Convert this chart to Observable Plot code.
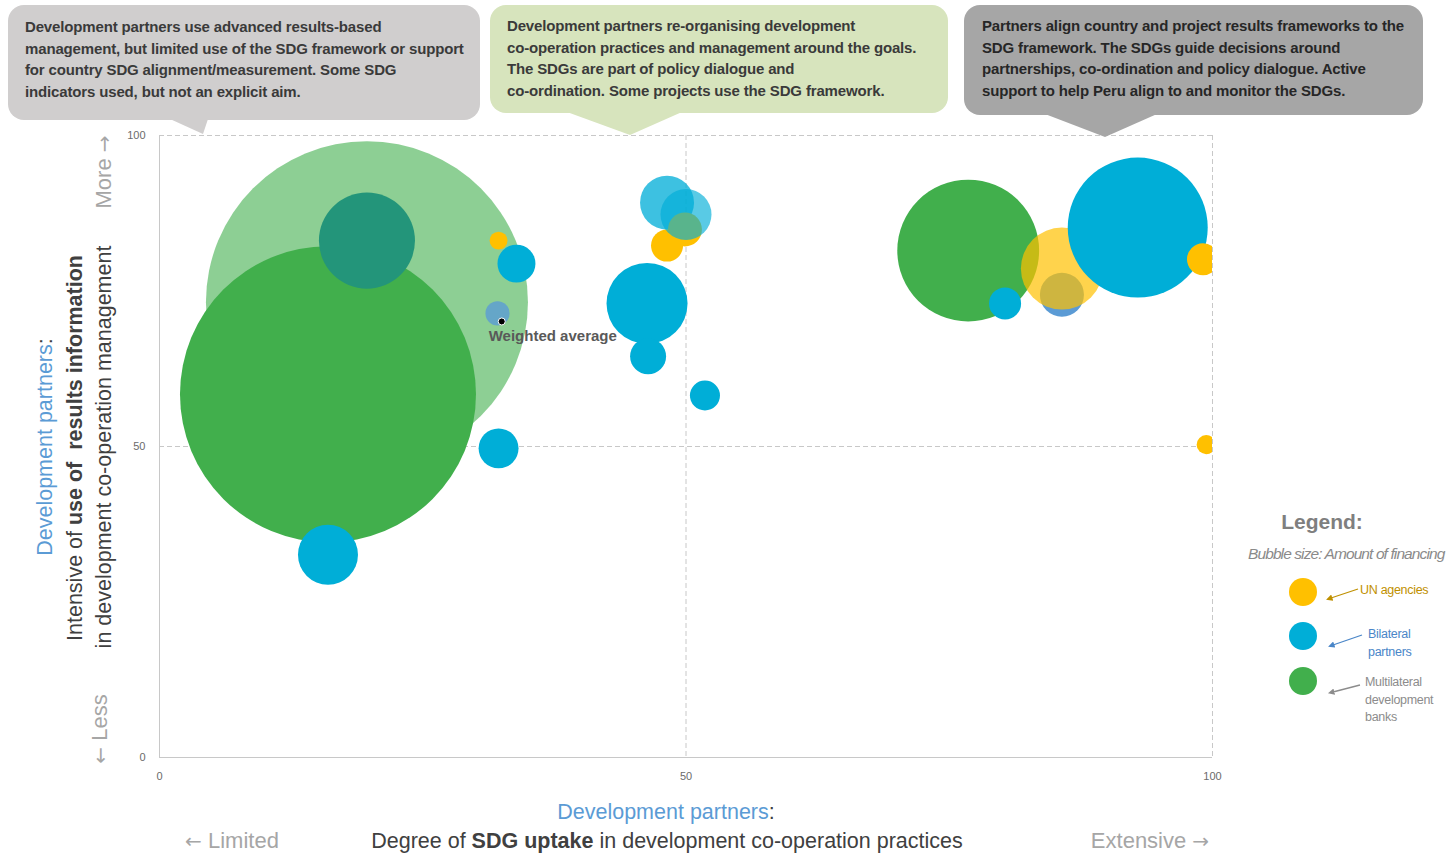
<!DOCTYPE html>
<html>
<head>
<meta charset="utf-8">
<script src="https://cdn.jsdelivr.net/npm/d3@7"></script>
<script src="https://cdn.jsdelivr.net/npm/@observablehq/plot@0.6"></script>
<style>
  body { margin: 0; background: #fff; }
  #page { position: relative; width: 1455px; height: 856px; overflow: hidden;
          font-family: "Liberation Sans Narrow", "Arial Narrow", "Liberation Sans", sans-serif; }
  #chart { position: absolute; left: 0; top: 0; }
  #overlay { position: absolute; left: 0; top: 0; pointer-events: none; }
  .abs { position: absolute; white-space: nowrap; }
  .callout { font-family: "Liberation Sans", Arial, sans-serif; font-weight: bold; font-size: 15px;
             letter-spacing: -0.15px; line-height: 21.5px; color: #3a3a3a; }
  .rot { transform: translate(-50%, -50%) rotate(-90deg); }
  .ctr { transform: translate(-50%, -50%); }
  .title { font-size: 21.5px; color: #404040; }
  .blue { color: #5b9bd5; }
  .hint { font-size: 22px; color: #a6a6a6; }
  .arr { font-family: "DejaVu Sans", sans-serif; font-size: 20px; }
</style>
</head>
<body>
<div id="page">
  <div id="chart"></div>
  <svg id="overlay" width="1455" height="856"></svg>
</div>
<script>
// Partner groups shown in the legend
const groupCodes = ["UN", "BIL", "MDB"];
const groupLabels = [["UN agencies"], ["Bilateral", "partners"], ["Multilateral", "development", "banks"]];

// One entry per development partner (drawn in this order)
const bubbleType = ["MDB","MDB","Joint","UN","BIL","Avg","BIL","BIL","BIL","UN","UN",
                    "BIL","BIL","BIL","BIL","MDB","BIL","Avg","UN","BIL","UN","UN"];
const sdgUptake  = [19.7,16.0,19.7,32.2,33.9,32.1,32.2,16.0,48.2,48.2,49.9,
                    50.0,46.3,46.4,51.8,76.8,80.3,85.7,85.7,92.9,99.1,99.4];
const resultsUse = [73.2,58.4,83.1,83.1,79.4,71.4,49.7,32.6,89.2,82.3,84.9,
                    87.3,73.0,64.5,58.2,81.5,73.0,74.4,78.6,85.2,80.1,50.3];
const financing  = [100,84.5,8.9,0.31,1.39,0.56,1.54,3.47,2.81,0.99,1.11,
                    2.51,6.33,1.25,0.87,19.4,0.99,1.87,6.49,18.9,0.99,0.35];

// Weighted average of all partners
const averagePoint = {x: 32.5, y: 70.1, label: "Weighted average"};

const axisTicks = [0, 50, 100];

// Colours and translucency
const typeColors = {UN: "#ffc000", BIL: "#00aed7", MDB: "#41af4c", Avg: "#5b9bd5", Joint: "#23957a"};
const fade = new Map([[0, 0.6], [5, 0.8], [8, 0.76], [11, 0.65], [18, 0.7]]);

const bubbles = bubbleType.map((t, i) => ({
  i, type: t, x: sdgUptake[i], y: resultsUse[i], financing: financing[i]
}));

const grid = "#c8c8c8";
const chart = Plot.plot({
  width: 1455, height: 856,
  marginLeft: 159, marginRight: 243, marginTop: 135, marginBottom: 99,
  style: {fontFamily: "'Liberation Sans Narrow','Arial Narrow','Liberation Sans',sans-serif", maxWidth: "none"},
  x: {domain: [0, 100]},
  y: {domain: [0, 100]},
  r: {type: "sqrt", domain: [0, 100], range: [0, 161]},
  color: {domain: Object.keys(typeColors), range: Object.values(typeColors)},
  marks: [
    Plot.ruleX([50, 100], {stroke: grid, strokeDasharray: "5,3"}),
    Plot.ruleY([50, 100], {stroke: grid, strokeDasharray: "5,3"}),
    Plot.ruleX([0], {stroke: grid}),
    Plot.ruleY([0], {stroke: grid}),
    Plot.dot(bubbles, {
      x: "x", y: "y", r: "financing", fill: "type",
      fillOpacity: d => fade.get(d.i) ?? 1,
      sort: null, clip: "frame"
    }),
    Plot.dot([averagePoint], {x: "x", y: "y", r: 3.5, fill: "black", stroke: "white", strokeWidth: 1}),
    Plot.text([averagePoint], {
      x: "x", y: "y", text: "label", textAnchor: "start", dx: -13, dy: 15,
      fontSize: 15, fontWeight: "bold", fill: "#595959",
      fontFamily: "'Liberation Sans',Arial,sans-serif"
    }),
    Plot.axisX(axisTicks, {tickSize: 0, tickPadding: 15, fontSize: 11, color: "#6b6b6b", label: null}),
    Plot.axisY(axisTicks, {tickSize: 0, tickPadding: 14, fontSize: 11, color: "#6b6b6b", label: null})
  ]
});
document.getElementById("chart").appendChild(chart);

// Callout boxes above the plot
const callouts = [
  {x: 8, y: 5, w: 472, h: 115, fill: "#d0cece", tri: [[170, 119], [208, 119], [203, 134]], tx: 25, ty: 16, color: "#3a3a3a",
   lines: ["Development partners use advanced results-based",
           "management, but limited use of the SDG framework or support",
           "for country SDG alignment/measurement.  Some SDG",
           "indicators used, but not an explicit aim."]},
  {x: 490, y: 5, w: 458, h: 108, fill: "#d7e4bd", tri: [[567, 112], [682, 112], [630, 135]], tx: 507, ty: 15, color: "#3a3a3a",
   lines: ["Development partners re-organising development",
           "co-operation practices and management around the goals.",
           "The SDGs are part of policy dialogue and",
           "co-ordination. Some projects use the SDG framework."]},
  {x: 964, y: 5, w: 459, h: 110, fill: "#a6a6a6", tri: [[1045, 114], [1157, 114], [1105, 137]], tx: 982, ty: 15, color: "#262626",
   lines: ["Partners align country and project results frameworks to the",
           "SDG framework. The SDGs guide decisions around",
           "partnerships, co-ordination and policy dialogue. Active",
           "support to help Peru align to and monitor the SDGs."]}
];

const overlay = d3.select("#overlay");
const page = document.getElementById("page");
for (const c of callouts) {
  overlay.append("rect").attr("x", c.x).attr("y", c.y).attr("width", c.w).attr("height", c.h)
    .attr("rx", 16).attr("fill", c.fill);
  overlay.append("polygon").attr("points", c.tri.map(p => p.join(",")).join(" ")).attr("fill", c.fill);
  const div = document.createElement("div");
  div.className = "abs callout";
  div.style.left = c.tx + "px";
  div.style.top = c.ty + "px";
  div.style.color = c.color;
  div.innerHTML = c.lines.join("<br>");
  page.appendChild(div);
}

// Axis titles
function addText(html, cls, left, top, extra = "") {
  const div = document.createElement("div");
  div.className = "abs " + cls;
  div.style.left = left + "px";
  div.style.top = top + "px";
  if (extra) div.style.cssText += extra;
  div.innerHTML = html;
  page.appendChild(div);
}
addText('<span class="blue">Development partners</span>:', "title rot", 45, 447);
addText('Intensive of <b>use of</b>&nbsp; <b>results information</b>', "title rot", 75, 448);
addText('in development co-operation management', "title rot", 104, 447);
addText('More <span class="arr">\u2192</span>', "hint rot", 104, 172);
addText('<span class="arr">\u2190</span> Less', "hint rot", 100, 729);

addText('<span class="blue">Development partners</span>:', "title ctr", 666, 812);
addText('Degree of <b>SDG uptake</b> in development co-operation practices', "title ctr", 667, 841);
addText('<span class="arr">\u2190</span> Limited', "hint ctr", 232, 841);
addText('Extensive <span class="arr">\u2192</span>', "hint ctr", 1150, 841);

// Legend
addText('Legend:', "ctr", 1322, 522, "font-size:21px;font-weight:bold;color:#7f7f7f;");
addText('Bubble size: Amount of financing', "", 1248, 545,
  "font-size:15.5px;font-style:italic;color:#8a8a8a;letter-spacing:-0.9px;");

const legendColors = {UN: "#bf9000", BIL: "#4a86c8", MDB: "#8c8c8c"};
const defs = overlay.append("defs");
groupCodes.forEach(code => {
  defs.append("marker").attr("id", "arrow-" + code).attr("viewBox", "0 0 10 10")
    .attr("refX", 2).attr("refY", 5).attr("markerWidth", 5).attr("markerHeight", 5)
    .attr("orient", "auto-start-reverse")
    .append("path").attr("d", "M0,0 L10,5 L0,10 z").attr("fill", legendColors[code]);
});
const legendRows = [
  {cy: 592, arrow: [1358, 589, 1331, 598], tx: 1360, ty: 582},
  {cy: 636, arrow: [1362, 635, 1333, 645], tx: 1368, ty: 626},
  {cy: 681, arrow: [1360, 685, 1333, 692], tx: 1365, ty: 674}
];
groupCodes.forEach((code, k) => {
  const row = legendRows[k];
  overlay.append("circle").attr("cx", 1303).attr("cy", row.cy).attr("r", 14).attr("fill", typeColors[code]);
  overlay.append("line").attr("x1", row.arrow[0]).attr("y1", row.arrow[1])
    .attr("x2", row.arrow[2]).attr("y2", row.arrow[3])
    .attr("stroke", legendColors[code]).attr("stroke-width", 1.3)
    .attr("marker-end", `url(#arrow-${code})`);
  addText(groupLabels[k].join("<br>"), "", row.tx, row.ty,
    `font-size:12.5px;line-height:17.5px;color:${legendColors[code]};letter-spacing:-0.3px;`);
});
</script>
</body>
</html>
